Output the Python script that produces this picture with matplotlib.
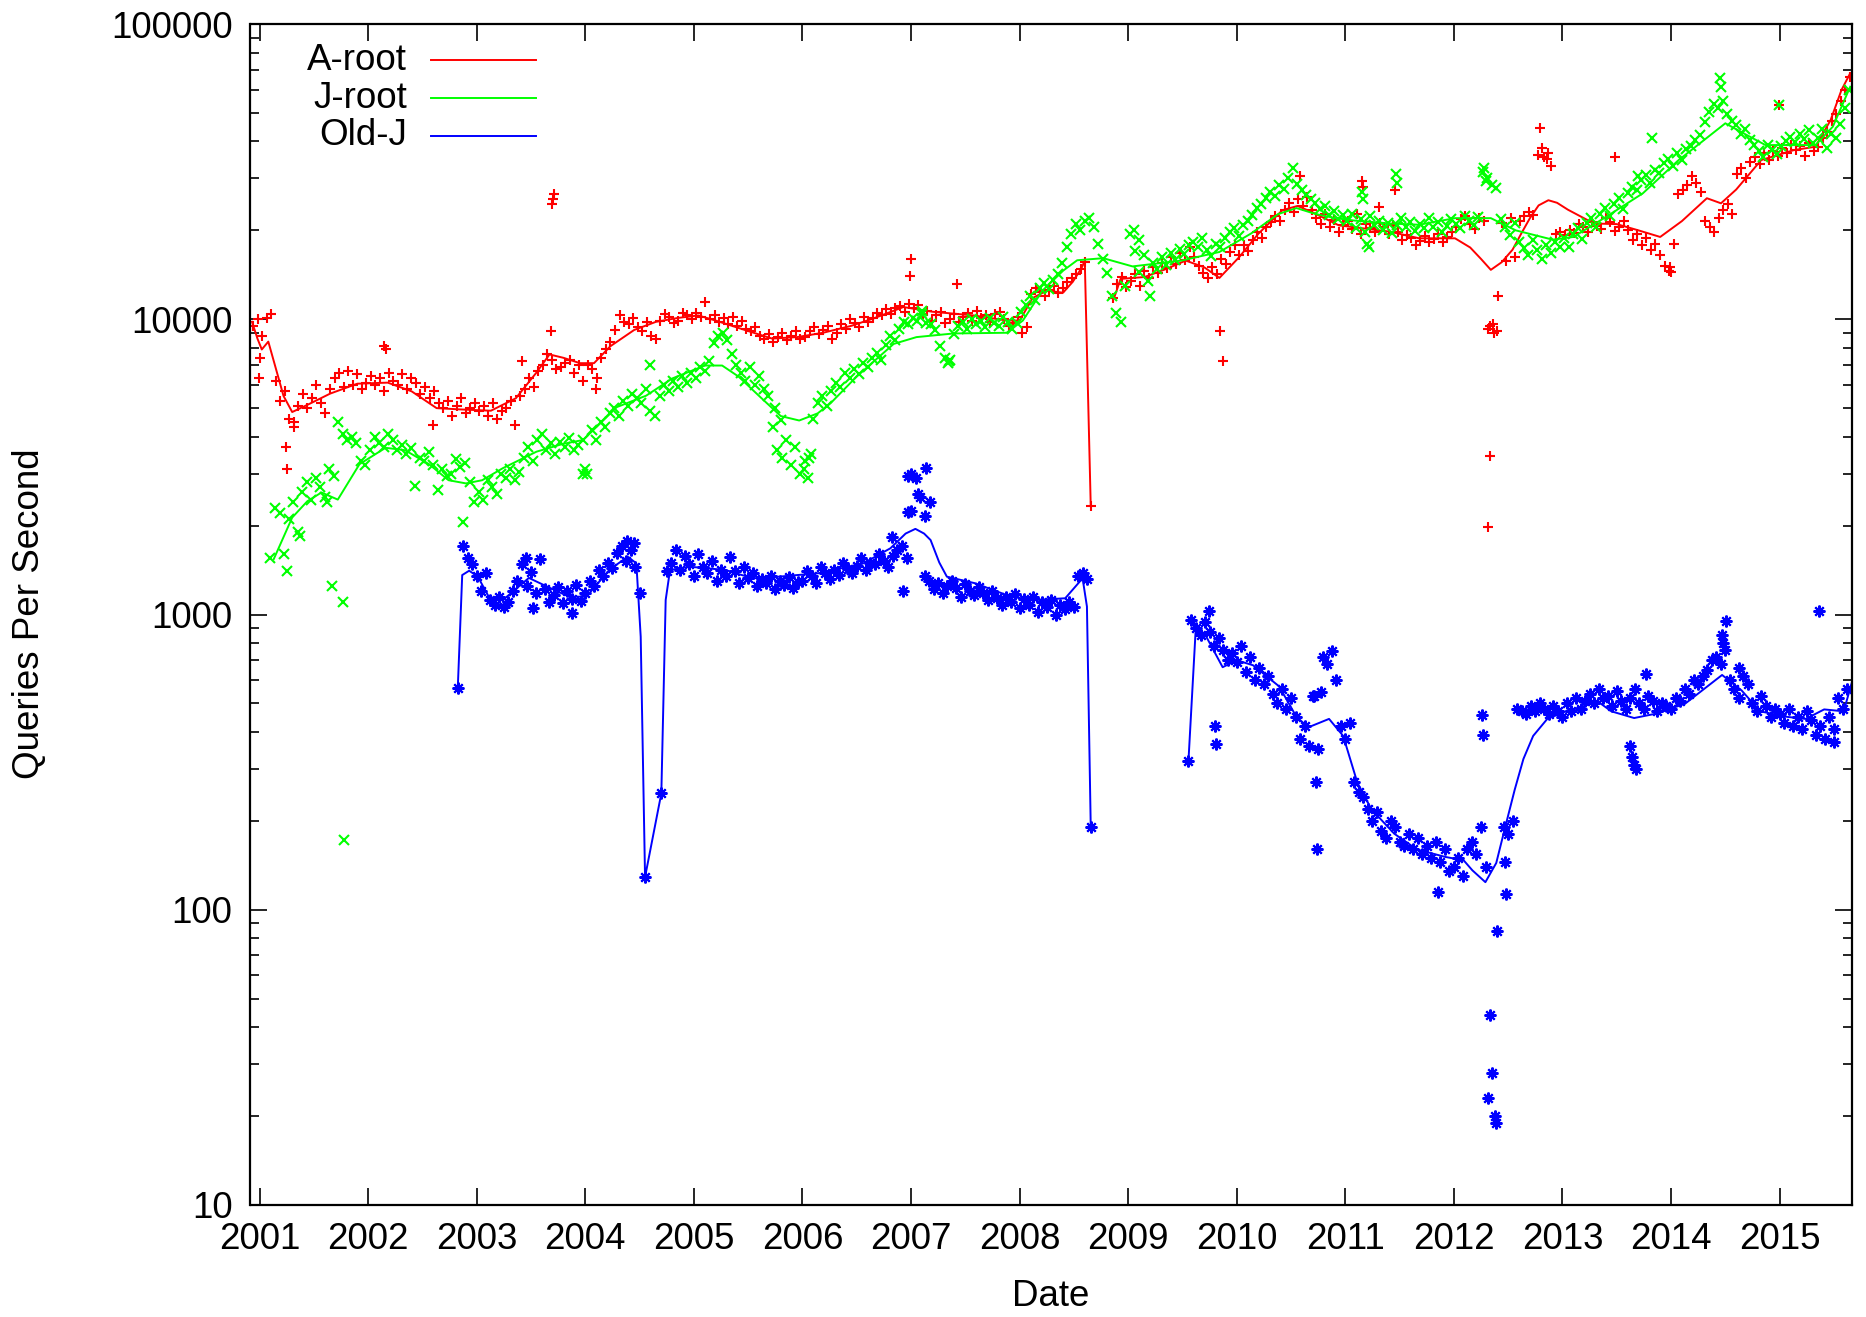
import numpy as np
import matplotlib
matplotlib.use("Agg")
import matplotlib.pyplot as plt
from matplotlib.lines import Line2D
import matplotlib.ticker as ticker

nan = float("nan")
STEP = 1 / 24  # samples twice a month

plt.rcParams['font.family'] = ['Liberation Sans', 'DejaVu Sans']

# ---- A-root ---------------------------------------------------------------
a_root_start = 2000.94
a_root_qps = [
    9500, 10000,
    # 2001
    8800, 10100, 10400, 6200, 5300, 5700, 4600, 4300, 5100, 5600, 5000, 5400,
    6000, 5200, 4800, 5800, 6300, 6600, 5900, 6700, 6000, 6500, 5800, 6100,
    # 2002
    6400, 6000, 6300, 5700, 6600, 6200, 6000, 6500, 5800, 6300, 6100, 5600,
    5900, 5400, 5700, 5200, 5000, 5300, 4700, 5100, 5400, 4800, 5000, 5200,
    # 2003
    4900, 5100, 4700, 5200, 4600, 4900, 5000, 5300, 4400, 5500, 5800, 6300,
    5900, 6700, 7000, 7600, 7300, 6800, 6900, 7100, 7300, 6600, 7000, 6200,
    # 2004
    7000, 6800, 6300, 7400, 7900, 8400, 9200, 10300, 9800, 9600, 10100, 9400,
    9100, 9800, 8800, 8600, 9900, 10400, 10200, 9700, 9900, 10500, 10300, 10000,
    # 2005
    10500, 10200, 11400, 10000, 10300, 9800, 10100, 9600, 10200, 9500, 9900, 9300,
    9100, 9400, 8800, 8600, 8900, 8400, 8700, 9000, 8500, 8800, 9100, 8600,
    # 2006
    8700, 9100, 9400, 8900, 9200, 9500, 8600, 9000, 9600, 9300, 10000, 9700,
    9400, 10200, 9800, 10100, 10500, 10300, 10800, 10400, 10900, 11100, 10600, 11300,
    # 2007
    10900, 11200, 10400, 10700, 9900, 10300, 10600, 9700, 10000, 10400, 9800, 10200,
    10500, 9900, 10700, 10100, 10300, 9800, 10400, 10600, 10000, 9500, 9700, 10200,
    # 2008
    9000, 9400, 12200, 12800, 12400, 12000, 12600, 13000, 12300, 12800, 13400, 13800,
    14200, 14800, 15600, nan, nan, nan, nan, nan, 11800, 13200, 13900, 12900,
    # 2009
    13500, 14200, 13000, 14600, 13800, 15000, 14300, 15500, 14900, 16200, 15400, 16800,
    15900, 17500, 16300, 15100, 14300, 13800, 15000, 14200, 16000, 15400, 16900, 17800,
    # 2010
    16500, 17800, 17000, 18600, 19700, 18900, 20500, 21300, 22400, 21600, 23500, 24800,
    23000, 25500, 24200, 26000, 23400, 22100, 21000, 22800, 20500, 21700, 19800, 20900,
    # 2011
    21500, 20200, 22800, 19500, 21000, 20400, 19800, 21200, 20600, 19400, 20900, 19700,
    18500, 19300, 18800, 17900, 18400, 19100, 18200, 18700, 19500, 18300, 19000, 19800,
    # 2012
    20500, 21800, 22300, 21000, 20200, 22000, 21500, 9300, 9600, 9100, 21200, 15800,
    22000, 16200, 21500, 22400, 23000, 22600, 36000, 38000, 35000, 33000, 19500, 19800,
    # 2013
    19300, 20100, 19600, 21000, 20500, 19800, 21300, 20700, 20200, 22000, 21400, 19900,
    20600, 21500, 20100, 18600, 19400, 17900, 18800, 17200, 18000, 16500, 15200, 14600,
    # 2014
    18000, 26500, 27500, 28500, 30500, 29000, 27000, 21500, 20500, 19800, 22000, 23500,
    24500, 22800, 31000, 32500, 30000, 34000, 35500, 33500, 36500, 34500, 37000, 35800,
    # 2015
    38000, 36500, 39000, 37500, 38500, 35800, 39500, 37000, 38200, 41000, 43000, 47000,
    49500, 55000, 60000, 66000,
]
a_root_extra_years = [
    2001.00, 2000.99, 2001.24, 2001.25, 2001.32, 2002.15, 2002.16, 2002.60, 2003.42,
    2003.69, 2003.70, 2003.71, 2003.68, 2004.10, 2007.00, 2006.99, 2007.42, 2008.655,
    2009.85, 2009.87, 2010.58, 2011.15, 2011.16, 2011.46, 2011.31, 2012.33, 2012.37,
    2012.33, 2012.31, 2012.41, 2012.79, 2012.83, 2012.87, 2013.48, 2014.00, 2013.99,
    2014.99,
]
a_root_extra_qps = [
    7400, 6300, 3700, 3100, 4500, 8100, 7900, 4400, 7200,
    24500, 25500, 26500, 9100, 5800, 16000, 14000, 13200, 2330,
    9100, 7200, 30500, 29500, 28000, 27500, 24000, 9500, 9000,
    3450, 1980, 12000, 44500, 35500, 36500, 35500, 14500, 15000,
    53000,
]
a_root_trend_years = [
    2000.93, 2000.98, 2001.02, 2001.08, 2001.15, 2001.22, 2001.30, 2001.45, 2001.65,
    2001.90, 2002.18, 2002.40, 2002.63, 2002.85, 2003.13, 2003.36, 2003.55, 2003.67,
    2003.80, 2003.95, 2004.08, 2004.23, 2004.45, 2004.65, 2004.85, 2005.04, 2005.20,
    2005.35, 2005.55, 2005.72, 2005.95, 2006.19, 2006.45, 2006.65, 2006.93, 2007.20,
    2007.58, 2007.88, 2008.00, 2008.12, 2008.25, 2008.40, 2008.49, 2008.57, 2008.60,
    2008.655, nan,
    2008.87, 2008.93, 2009.15, 2009.35, 2009.53, 2009.70, 2009.84, 2010.02, 2010.20,
    2010.42, 2010.56, 2010.70, 2010.94, 2011.41, 2011.68, 2012.01, 2012.15, 2012.25,
    2012.34, 2012.44, 2012.54, 2012.62, 2012.70, 2012.78, 2012.87, 2012.95, 2013.05,
    2013.29, 2013.50, 2013.70, 2013.90, 2014.10, 2014.33, 2014.46, 2014.60, 2014.83,
    2015.13, 2015.33, 2015.47, 2015.57, 2015.65,
]
a_root_trend_qps = [
    9800, 8600, 7900, 8400, 6800, 5500, 4850, 5150, 5600,
    6050, 6100, 5700, 5000, 4950, 4900, 5400, 6600, 7600,
    7400, 7100, 7100, 8100, 9200, 9800, 10100, 10300, 9900,
    9500, 9000, 8600, 8700, 9000, 9500, 10050, 11000, 10600,
    10300, 9900, 9900, 11800, 12500, 12300, 13400, 14900, 15800,
    2330, nan,
    11800, 13700, 13900, 14800, 15800, 15000, 13800, 16200, 19500,
    23400, 24200, 23000, 20800, 19800, 18800, 18800, 17500, 16000,
    14700, 15600, 17200, 19500, 22000, 24300, 25300, 24800, 23500,
    21100, 21000, 20000, 19000, 21500, 25700, 24700, 27500, 34600,
    37400, 38400, 47300, 59800, 68100,
]

# ---- J-root ---------------------------------------------------------------
j_root_start = 2001.10
j_root_qps = [
    # 2001
    1550, 2300, 2200, 1600, 2100, 2400, 1900, 2600, 2800, 2450, 2900, 2700,
    2500, 3100, 2950, 4500, 4100, 3900, 4000, 3800, 3300, 3200,
    # 2002
    3600, 4000, 3800, 3700, 4100, 3900, 3600, 3750, 3500, 3650, 2720, 3400,
    3300, 3550, 3200, 2650, 3100, 2950, 3000, 3350, 3150, 3250, 2800, 2400,
    # 2003
    2600, 2450, 2850, 2700, 2550, 3000, 2900, 3100, 2850, 3050, 3400, 3700,
    3300, 3900, 4100, 3600, 3800, 3500, 3850, 3700, 3950, 3600, 3750, 3900,
    # 2004
    3000, 4200, 3900, 4500, 4300, 4800, 5000, 4700, 5300, 5100, 5600, 5400,
    5200, 5800, 4900, 4700, 5500, 6000, 5700, 6200, 5900, 6400, 6100, 6600,
    # 2005
    6300, 6900, 6700, 7200, 8300, 8800, 9000, 8500, 7600, 7000, 6600, 6200,
    6900, 6000, 6400, 5800, 5500, 4300, 3600, 3400, 3900, 3200, 3700, 3000,
    # 2006
    3100, 3400, 4600, 5200, 5500, 5100, 5700, 6100, 5900, 6600, 6300, 6800,
    6500, 7100, 6900, 7400, 7700, 7300, 8200, 8800, 8500, 9300, 9800, 9600,
    # 2007
    10100, 9900, 10400, 9700, 9600, 9200, 8100, 7400, 7200, 8900, 9500, 9800,
    9300, 10000, 9600, 9900, 9400, 10100, 9700, 9500, 10200, 9800, 9300, 9700,
    # 2008
    10600, 11200, 12000, 11600, 12800, 13300, 12700, 13600, 14200, 15500, 17500, 19500,
    21000, 20000, 21500, 22000, 20500, 18000, 16000, 14300, 12000, 10500, 9800, 13000,
    # 2009
    19500, 17000, 14500, 16500, 13500, 15500, 14800, 16200, 15300, 16800, 15900, 17300,
    16600, 17800, 18300, 17500, 18800, 17200, 16400, 18000, 17600, 18900, 19700, 20400,
    # 2010
    19200, 20800, 21500, 22600, 23800, 24500, 25800, 27000, 26200, 28500, 27600, 30000,
    32500, 28800, 27500, 26400, 25600, 24800, 23600, 24200, 22500, 23300, 21800, 22600,
    # 2011
    21500, 22800, 20400, 21900, 19800, 22300, 20900, 21600, 20100, 21200, 19600, 20800,
    22000, 20500, 21400, 19900, 21000, 20300, 22100, 20600, 21300, 19800, 20700, 21800,
    # 2012
    21000, 20300, 22400, 21500, 20800, 22200, 31500, 30000, 28500, 27800, 21800, 20500,
    19300, 21200, 18300, 17400, 16500, 18600, 17200, 16000, 17800, 16700, 18200, 17500,
    # 2013
    18800, 17600, 19500, 20300, 18700, 21200, 22100, 20600, 22800, 23900, 22300, 24600,
    25800, 23700, 26800, 28100, 27300, 29600, 30800, 28900, 32100, 31200, 33800, 35000,
    # 2014
    33000, 36500, 34500, 37800, 38500, 40500, 42000, 46500, 50500, 53500, 52000, 55000,
    49500, 47000, 45500, 42500, 44000, 40500, 38800, 37000, 35500, 39000, 37500, 36200,
    # 2015
    38500, 40200, 41500, 39800, 42300, 40800, 43600, 39500, 41200, 44000, 38000, 42500,
    41000, 46000, 52000, 60000,
]
j_root_extra_years = [
    2001.25, 2001.37, 2001.62, 2001.67, 2001.77, 2001.78, 2002.87, 2003.98, 2004.00,
    2004.60, 2005.80, 2005.75, 2006.02, 2006.05, 2006.08, 2007.34, 2007.36, 2007.10,
    2009.05, 2009.10, 2009.20, 2011.15, 2011.16, 2011.47, 2011.48, 2011.20, 2011.22,
    2012.28, 2012.30, 2013.82, 2013.70, 2014.45, 2014.46, 2014.99,
]
j_root_extra_qps = [
    1400, 1850, 2400, 1250, 1100, 172, 2050, 3000, 3100,
    7000, 4550, 5000, 3300, 2900, 3500, 7100, 7300, 10700,
    20000, 18500, 12000, 27000, 25500, 31000, 29000, 18000, 17500,
    32500, 29500, 41000, 30500, 65500, 61000, 53000,
]
j_root_trend_years = [
    2001.13, 2001.30, 2001.44, 2001.57, 2001.72, 2001.92, 2002.16, 2002.34, 2002.56,
    2002.74, 2002.90, 2003.05, 2003.24, 2003.55, 2003.79, 2003.98, 2004.29, 2004.56,
    2004.80, 2005.10, 2005.26, 2005.41, 2005.60, 2005.80, 2005.97, 2006.14, 2006.26,
    2006.50, 2006.84, 2007.05, 2007.39, 2007.88, 2008.03, 2008.21, 2008.40, 2008.53,
    2008.77, 2009.04, 2009.49, 2009.84, 2010.13, 2010.38, 2010.55, 2010.73, 2010.91,
    2011.08, 2011.41, 2011.68, 2012.01, 2012.34, 2012.57, 2012.91, 2013.10, 2013.40,
    2013.74, 2014.07, 2014.50, 2014.67, 2014.87, 2015.33, 2015.49, 2015.65,
]
j_root_trend_qps = [
    1540, 2130, 2420, 2590, 2450, 3230, 3670, 3600, 3230,
    2850, 2780, 2850, 3130, 3560, 3780, 3900, 5040, 5510,
    6300, 6970, 6970, 6400, 5500, 4700, 4540, 4800, 5200,
    6400, 8250, 8700, 8950, 9000, 9900, 12500, 14600, 15840,
    16100, 15100, 15800, 16900, 19500, 22700, 23800, 22700, 22000,
    21600, 21100, 20900, 22000, 22000, 20000, 18600, 19000, 22200,
    26700, 34600, 46100, 42600, 38900, 38900, 44900, 61300,
]

# ---- Old-J ----------------------------------------------------------------
old_j_start = 2002.875
old_j_qps = [
    1700, 1550, 1480,
    # 2003
    1350, 1200, 1380, 1120, 1080, 1150, 1060, 1100, 1200, 1300, 1480, 1250,
    1390, 1180, 1540, 1220, 1100, 1160, 1240, 1090, 1200, 1130, 1260, 1110,
    # 2004
    1180, 1300, 1250, 1420, 1350, 1500, 1440, 1620, 1700, 1520, 1650, 1450,
    1180, nan, nan, nan, nan, nan, 1400, 1500, 1650, 1420, 1580, 1480,
    # 2005
    1350, 1600, 1450, 1380, 1520, 1300, 1420, 1350, 1560, 1400, 1280, 1450,
    1330, 1380, 1250, 1320, 1280, 1350, 1220, 1300, 1260, 1340, 1230, 1290,
    # 2006
    1300, 1400, 1350, 1280, 1450, 1380, 1320, 1420, 1360, 1500, 1430, 1380,
    1460, 1550, 1420, 1500, 1480, 1600, 1520, 1450, 1580, 1650, 1700, 1550,
    # 2007
    2250, 2900, 2500, 1350, 1300, 1220, 1280, 1180, 1250, 1300, 1230, 1150,
    1270, 1200, 1160, 1240, 1180, 1120, 1200, 1140, 1080, 1150, 1100, 1170,
    # 2008
    1050, 1130, 1080, 1150, 1020, 1100, 1060, 1120, 1000, 1080, 1040, 1100,
    1060, 1350, 1380, 1320,
]
old_j_late_start = 2009.583
old_j_late_qps = [
    960, 900, 850, 940, 870, 780, 830, 760, 700, 740,
    # 2010
    690, 780, 640, 720, 600, 660, 580, 620, 540, 500, 560, 480,
    520, 450, 380, 420, 360, 530, 350, 720, 680, 750, 600, 420,
    # 2011
    380, 430, 270, 250, 240, 220, 200, 215, 185, 175, 200, 190,
    170, 165, 180, 160, 175, 155, 165, 150, 170, 145, 160, 135,
    # 2012
    140, 150, 130, 160, 170, 155, 190, 140, nan, nan, nan, 190,
    180, 200, 480, 470, 460, 490, 470, 500, 480, 460, 490, 470,
    # 2013
    450, 500, 470, 520, 480, 510, 540, 500, 560, 520, 530, 490,
    550, 510, 480, 520, 560, 500, 480, 530, 510, 470, 500, 490,
    # 2014
    480, 520, 510, 560, 540, 600, 580, 620, 650, 700, 720, 680,
    760, 600, 560, 520, 620, 580, 500, 470, 530, 490, 450, 480,
    # 2015
    460, 430, 480, 420, 450, 410, 470, 440, 390, 420, 380, 450,
    410, 520, 480, 560,
]
old_j_extra_years = [
    2002.825, 2003.52, 2003.88, 2003.45, 2004.38, 2004.45, 2004.55, 2004.70,
    2006.82, 2006.93, 2006.97, 2006.97, 2007.00, 2007.06, 2007.13, 2007.14, 2007.17,
    2008.655, 2009.555, 2009.74, 2009.80, 2009.81, 2010.70, 2010.73, 2010.74, 2010.78,
    2011.85, 2012.26, 2012.27, 2012.40, 2012.33, 2012.35, 2012.31, 2012.38, 2012.39,
    2012.47, 2012.48, 2013.62, 2013.64, 2013.66, 2013.68, 2013.77, 2014.47, 2014.48,
    2014.51, 2014.63, 2015.36, 2015.50,
]
old_j_extra_qps = [
    562, 1050, 1010, 1550, 1780, 1750, 129, 248,
    1830, 1200, 2950, 2230, 3000, 2550, 2150, 3130, 2400,
    191, 320, 1030, 420, 365, 530, 270, 160, 545,
    115, 455, 390, 85, 44, 28, 23, 20, 19,
    145, 113, 360, 330, 310, 300, 630, 850, 800,
    950, 660, 1030, 370,
]
old_j_trend_years = [
    2002.825, 2002.866, 2002.93, 2003.01, 2003.11, 2003.24, 2003.48, 2003.65, 2003.85,
    2004.01, 2004.22, 2004.39, 2004.47, 2004.51, 2004.55, 2004.70, 2004.74, 2004.78,
    2004.96, 2005.29, 2005.54, 2005.78, 2006.15, 2006.56, 2006.81, 2006.95, 2007.04,
    2007.12, 2007.18, 2007.26, 2007.33, 2007.59, 2007.92, 2008.13, 2008.42, 2008.58,
    2008.62, 2008.655, nan,
    2009.555, 2009.62, 2009.70, 2009.87, 2010.00, 2010.15, 2010.39, 2010.55, 2010.66,
    2010.85, 2010.98, 2011.11, 2011.24, 2011.45, 2011.66, 2011.92, 2012.09, 2012.17,
    2012.29, 2012.39, 2012.47, 2012.56, 2012.64, 2012.73, 2012.86, 2013.03, 2013.33,
    2013.45, 2013.66, 2013.88, 2014.13, 2014.47, 2014.65, 2014.82, 2015.07, 2015.24,
    2015.41, 2015.59, 2015.67,
]
old_j_trend_qps = [
    562, 1360, 1407, 1343, 1149, 1119, 1330, 1242, 1149,
    1149, 1415, 1570, 1490, 841, 129, 248, 1120, 1415,
    1452, 1415, 1326, 1343, 1380, 1490, 1676, 1880, 1950,
    1880, 1787, 1500, 1343, 1276, 1149, 1119, 1135, 1326,
    1064, 191, nan,
    319, 867, 867, 663, 700, 673, 571, 450, 415,
    443, 388, 270, 219, 181, 160, 151, 147, 136,
    124, 144, 189, 255, 324, 388, 443, 470, 506,
    470, 446, 463, 499, 624, 553, 470, 450, 443,
    477, 470, 597,
]

year_ticks = list(range(2001, 2016))
qps_ticks = [10, 100, 1000, 10000, 100000]
qps_tick_labels = ["10", "100", "1000", "10000", "100000"]
series_names = ["A-root", "J-root", "Old-J"]
series_colors = ["#ff0000", "#00ff00", "#0000ff"]


def sample_years(start, values):
    return start + np.arange(len(values)) * STEP


fig = plt.figure(figsize=(18.66, 13.17), dpi=100)
ax = fig.add_axes([250.5 / 1866, 112 / 1317, 1601 / 1866, 1181 / 1317])

point_style = dict(linestyle="none", markeredgewidth=1.5, fillstyle="none")
line_style = dict(linewidth=1.4)

# A-root
red = series_colors[0]
ax.plot(sample_years(a_root_start, a_root_qps), a_root_qps, marker="+", markersize=7.5,
        color=red, **point_style)
ax.plot(a_root_extra_years, a_root_extra_qps, marker="+", markersize=7.5, color=red,
        **point_style)
ax.plot(a_root_trend_years, a_root_trend_qps, color=red, **line_style)

# J-root
green = series_colors[1]
ax.plot(sample_years(j_root_start, j_root_qps), j_root_qps, marker="x", markersize=7,
        color=green, **point_style)
ax.plot(j_root_extra_years, j_root_extra_qps, marker="x", markersize=7, color=green,
        **point_style)
ax.plot(j_root_trend_years, j_root_trend_qps, color=green, **line_style)

# Old-J
blue = series_colors[2]
star = (8, 2, 0)
ax.plot(sample_years(old_j_start, old_j_qps), old_j_qps, marker=star, markersize=8.5,
        color=blue, **point_style)
ax.plot(sample_years(old_j_late_start, old_j_late_qps), old_j_late_qps, marker=star,
        markersize=8.5, color=blue, **point_style)
ax.plot(old_j_extra_years, old_j_extra_qps, marker=star, markersize=8.5, color=blue,
        **point_style)
ax.plot(old_j_trend_years, old_j_trend_qps, color=blue, **line_style)

# Axes
ax.set_yscale("log")
ax.set_xlim(2000.916, 2015.662)
ax.set_ylim(10, 100000)
ax.set_xticks(year_ticks)
ax.set_xticklabels([str(y) for y in year_ticks])
ax.set_yticks(qps_ticks)
ax.set_yticklabels(qps_tick_labels)
ax.yaxis.set_minor_locator(ticker.LogLocator(base=10, subs=np.arange(2, 10)))
ax.yaxis.set_minor_formatter(ticker.NullFormatter())
ax.xaxis.set_minor_locator(ticker.NullLocator())

ax.tick_params(axis="both", which="major", direction="in", length=12, width=1.2,
               top=True, right=True, labelsize=26.5)
ax.tick_params(axis="x", which="major", pad=12)
ax.tick_params(axis="y", which="major", pad=13)
ax.tick_params(axis="y", which="minor", direction="in", length=6.5, width=1.2,
               left=True, right=True)
for spine in ax.spines.values():
    spine.set_linewidth(1.6)

fig.text(30 / 1866, 1 - 614 / 1317, "Queries Per Second", rotation=90,
         ha="center", va="center", fontsize=26.5)
fig.text(1051 / 1866, 1 - 1297 / 1317, "Date", ha="center", va="center", fontsize=26.5)

# Key in the top-left corner, labels right-aligned before the line samples
key_rows = [0.9695, 0.9373, 0.9052]
for name, color, ky in zip(series_names, series_colors, key_rows):
    ax.text(0.0978, ky, name, transform=ax.transAxes, ha="right", va="center",
            fontsize=26.5)
    ax.add_line(Line2D([0.1127, 0.1783], [ky, ky], transform=ax.transAxes,
                       color=color, linewidth=1.4))

fig.savefig("out.png", dpi=100)
